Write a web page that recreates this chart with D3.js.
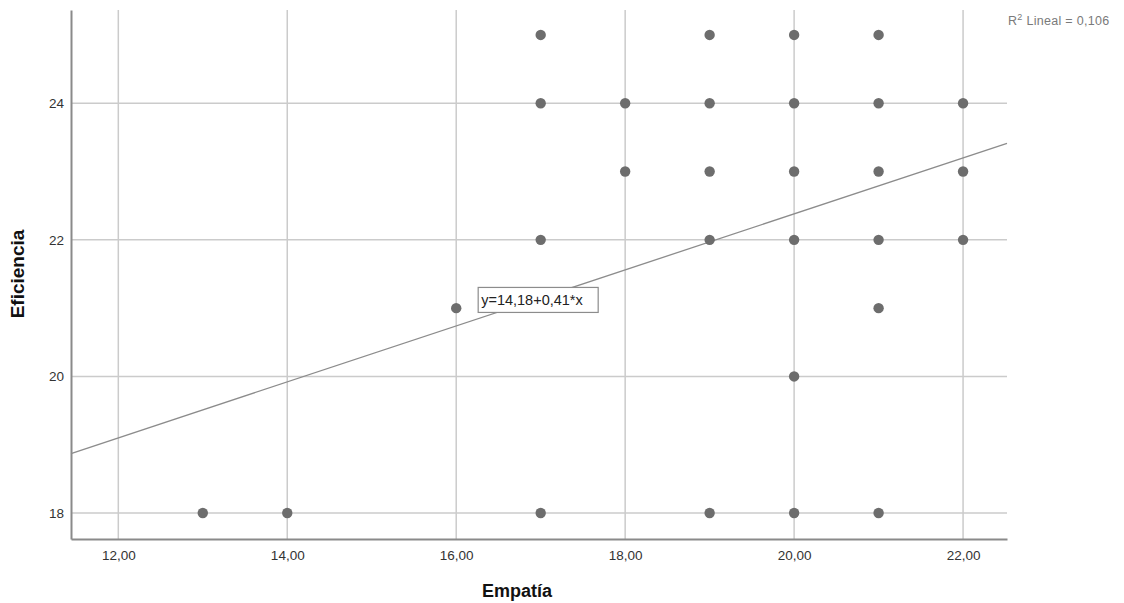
<!DOCTYPE html>
<html>
<head>
<meta charset="utf-8">
<script src="https://cdn.jsdelivr.net/npm/d3@7"></script>
<style>
  body { margin: 0; background: #fff; }
  svg { font-family: "Liberation Sans", Arial, sans-serif; }
</style>
</head>
<body>
<div id="chart"></div>
<script>
// scatter data: Empatía (x) vs Eficiencia (y)
const empatia    = [13, 14, 16, 17, 17, 17, 17, 18, 18, 19, 19, 19, 19, 19, 20, 20, 20, 20, 20, 20, 21, 21, 21, 21, 21, 21, 22, 22, 22];
const eficiencia = [18, 18, 21, 25, 24, 22, 18, 24, 23, 25, 24, 23, 22, 18, 25, 24, 23, 22, 20, 18, 25, 24, 23, 22, 21, 18, 24, 23, 22];
const xTicks = [12, 14, 16, 18, 20, 22];
const yTicks = [18, 20, 22, 24];
const fit = { a: 14.18, b: 0.41, r2: '0,106' };
const eqLabel = 'y=14,18+0,41*x';

let margin = { top: 10, left: 71, right: 117, bottom: 64 },
    width = 1124,
    height = 603;

let svg = d3.select('#chart')
    .append('svg')
    .attr('width', width)
    .attr('height', height);

let xScale = d3.scaleLinear()
    .domain([11.44, 22.52])
    .range([margin.left, width - margin.right]);

let yScale = d3.scaleLinear()
    .domain([17.62, 25.365])
    .range([height - margin.bottom, margin.top]);

const comma = d => d.toFixed(2).replace('.', ',');

// vertical grid
svg.append('g')
    .selectAll('line')
    .data(xTicks).enter()
    .append('line')
    .attr('x1', d => xScale(d)).attr('x2', d => xScale(d))
    .attr('y1', margin.top).attr('y2', height - margin.bottom)
    .attr('stroke', '#cbcbcb')
    .attr('stroke-width', 1.5);

// horizontal grid
svg.append('g')
    .selectAll('line')
    .data(yTicks).enter()
    .append('line')
    .attr('x1', margin.left).attr('x2', width - margin.right)
    .attr('y1', d => yScale(d)).attr('y2', d => yScale(d))
    .attr('stroke', '#cbcbcb')
    .attr('stroke-width', 1.5);

// X axis
let xAxis = svg.append('g')
    .attr('transform', `translate(0,${height - margin.bottom})`)
    .call(d3.axisBottom(xScale).tickValues(xTicks).tickFormat(comma).tickSize(0).tickPadding(11));
xAxis.select('.domain').attr('stroke', '#8a8a8a').attr('stroke-width', 2);
xAxis.selectAll('text').attr('font-size', 13.5).attr('fill', '#333')
    .style('font-family', '"Liberation Sans", Arial, sans-serif');

// Y axis
let yAxis = svg.append('g')
    .attr('transform', `translate(${margin.left},0)`)
    .call(d3.axisLeft(yScale).tickValues(yTicks).tickSize(0).tickPadding(7));
yAxis.select('.domain').attr('stroke', '#8a8a8a').attr('stroke-width', 2);
yAxis.selectAll('text').attr('font-size', 13.5).attr('fill', '#333')
    .style('font-family', '"Liberation Sans", Arial, sans-serif');

// regression line
const x0 = xScale.domain()[0], x1 = xScale.domain()[1];
svg.append('line')
    .attr('x1', xScale(x0)).attr('y1', yScale(fit.a + fit.b * x0))
    .attr('x2', xScale(x1)).attr('y2', yScale(fit.a + fit.b * x1))
    .attr('stroke', '#8c8c8c')
    .attr('stroke-width', 1.3);

// points
svg.append('g')
    .selectAll('circle')
    .data(empatia.map((d, i) => [d, eficiencia[i]])).enter()
    .append('circle')
    .attr('cx', d => xScale(d[0]))
    .attr('cy', d => yScale(d[1]))
    .attr('r', 5.2)
    .attr('fill', '#6d6d6d');

// equation label
let eq = svg.append('g')
    .attr('transform', `translate(${xScale(16.26)},${yScale(21.12)})`);
eq.append('rect')
    .attr('x', 0).attr('y', -12.5)
    .attr('width', 120).attr('height', 25)
    .attr('fill', '#fff')
    .attr('stroke', '#8c8c8c')
    .attr('stroke-width', 1.2);
eq.append('text')
    .attr('x', 3).attr('y', 5.5)
    .attr('font-size', 14.5)
    .attr('fill', '#222')
    .text(eqLabel);

// R2 label
let r2 = svg.append('text')
    .attr('x', 1008).attr('y', 25)
    .attr('font-size', 12.5)
    .attr('letter-spacing', 0.3)
    .attr('fill', '#7a7a7a');
r2.append('tspan').text('R');
r2.append('tspan').attr('dy', -5).attr('font-size', 9).text('2');
r2.append('tspan').attr('dy', 5).text(' Lineal = ' + fit.r2);

// axis titles
svg.append('text')
    .attr('x', 517).attr('y', 597)
    .attr('text-anchor', 'middle')
    .attr('font-size', 18)
    .attr('font-weight', 'bold')
    .attr('fill', '#111')
    .text('Empatía');

svg.append('text')
    .attr('transform', 'translate(24,274) rotate(-90)')
    .attr('text-anchor', 'middle')
    .attr('font-size', 19)
    .attr('font-weight', 'bold')
    .attr('fill', '#111')
    .text('Eficiencia');
</script>
</body>
</html>
